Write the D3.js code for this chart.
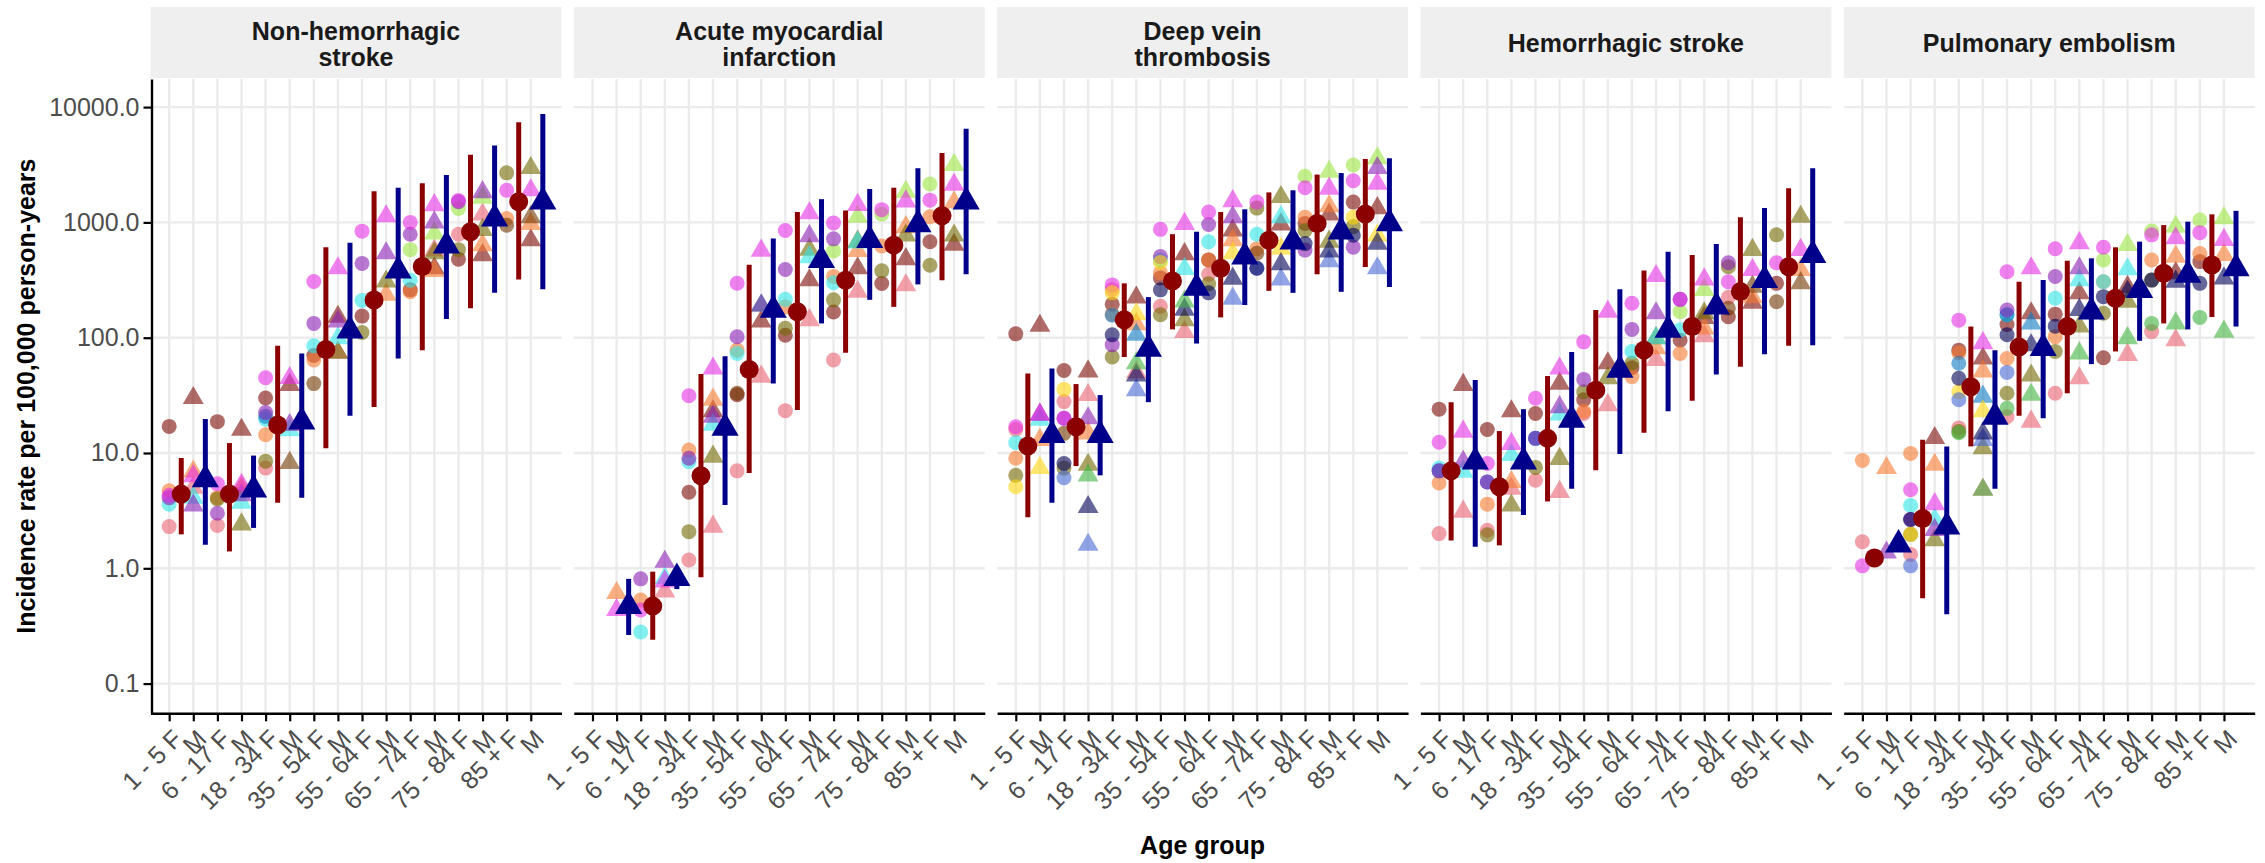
<!DOCTYPE html>
<html><head><meta charset="utf-8">
<script src="https://cdn.jsdelivr.net/npm/d3@7"></script>
<style>body{margin:0;background:#fff} text{font-family:"Liberation Sans",Arial,Helvetica,sans-serif}</style>
</head><body><svg id="c" width="2265" height="863"></svg>
<script>
const N = null;
const outcomeTitles = [["Non-hemorrhagic","stroke"],["Acute myocardial","infarction"],["Deep vein","thrombosis"],["Hemorrhagic stroke"],["Pulmonary embolism"]];
const ageGroups = ["1 - 5","6 - 17","18 - 34","35 - 54","55 - 64","65 - 74","75 - 84","85 +"];
const xLabels = ageGroups.flatMap(a => [a + " F", "M"]);
const yTickValues = [0.1, 1, 10, 100, 1000, 10000];
const dbNames  = ["brown","pink","orange","olive","gold","lime","cyan","sky","purple","magenta","yellow","cornflower","slate","green"];
const dbColors = ["#7b0a05","#e96171","#f77a2f","#716900","#713700","#9be63f","#2fe6e6","#0d7ac5","#8a1eb4","#e62fe6","#ffd50d","#4869d5","#000058","#3fb43f"];

// Non-hemorrhagic stroke: database estimates (F,M alternating per age group)
const nhStroke = [
  ["brown",   [17,30,18.7,15.9,30,39,70,152,154,N,260,400,480,520,N,700]],
  ["pink",    [2.3,5.0,2.35,4.8,7.4,N,N,74,N,N,N,570,790,1170,N,N]],
  ["orange",  [4.7,6.9,4.1,5.0,14.4,N,64,N,N,236,250,380,N,635,1080,970]],
  ["olive",   [N,N,4.0,2.4,8.5,N,N,74,111,307,N,540,580,860,2690,2960]],
  ["gold",    [N,N,N,N,N,8.2,40,N,N,N,N,N,N,N,945,1110]],
  ["lime",    [N,N,N,N,N,N,N,N,N,N,580,800,1320,1640,N,N]],
  ["cyan",    [3.6,4.1,N,3.7,19.6,15.8,85,99,210,N,315,N,N,N,N,N]],
  ["sky",     [N,N,N,N,20.8,N,N,N,N,N,N,N,N,N,N,N]],
  ["purple",  [4.1,3.5,3.0,4.3,22.4,17.5,133,138,441,540,790,1000,1510,1830,N,N]],
  ["magenta", [4.3,6.3,5.4,5.3,45,44.7,307,400,840,1130,1000,1410,1550,N,1900,1900]]
];
const nhEst = [4.4,5.9,4.4,4.8,17.5,18.7,79,115,212,381,415,630,830,1080,1510,1510];
const nhLo  = [1.97,1.6,1.4,2.24,3.7,4.1,11,21,25,66,78,145,180,245,320,263];
const nhHi  = [9.05,19.7,12.2,9.5,85,73,610,665,1860,2000,2180,2580,3870,4650,7400,8700];

// Acute myocardial infarction
const ami = [
  ["brown",   [N,N,N,N,4.56,23,32,138,105,315,167,400,295,480,680,640]],
  ["pink",    [N,N,N,0.63,1.18,2.3,7.0,46,23.3,142,64,250,N,285,N,N]],
  ["orange",  [N,0.61,0.53,N,10.6,29,78,N,185,N,340,565,625,910,1120,1490]],
  ["olive",   [N,N,N,N,2.08,9.3,N,190,121,580,213,680,380,770,425,770]],
  ["gold",    [N,N,N,N,N,N,33,N,N,N,N,N,N,N,N,N]],
  ["lime",    [N,N,N,N,N,N,N,N,N,N,565,1120,1180,1850,2150,3150]],
  ["cyan",    [N,N,0.28,0.82,8.4,17.6,73,190,215,500,300,670,N,N,N,N]],
  ["purple",  [N,N,0.81,1.14,9.0,20.6,102,190,390,760,720,N,N,N,N,N]],
  ["magenta", [N,0.435,0.435,0.77,31.4,54,297,569,850,1200,990,1420,1290,1520,1560,2120]]
];
const amiEst = [N,0.47,0.47,0.82,6.36,16.5,53,174,168,470,315,700,635,960,1140,1510];
const amiLo  = [N,0.264,0.24,0.66,0.835,3.54,6.7,40,23.6,133,74,213,185,290,315,355];
const amiHi  = [N,0.81,0.935,0.92,48.5,69,430,725,1230,1590,1270,1950,2000,2950,4000,6500];

// Deep vein thrombosis
const dvt = [
  ["brown",      [108,127,52,51,195,223,330,530,473,850,N,960,980,1170,1500,1330]],
  ["pink",       [16,N,27.9,31.8,262,50,187,112,355,N,N,N,N,N,N,N]],
  ["orange",     [9.0,13,N,14.8,160,131,365,N,473,700,590,N,1110,1380,N,N]],
  ["olive",      [6.4,N,7.4,7.9,68,N,158,142,294,N,1330,1660,850,680,920,N]],
  ["gold",       [N,N,14.8,N,N,N,N,N,N,N,540,N,N,N,N,N]],
  ["lime",       [N,N,N,N,N,N,N,N,N,N,N,N,2510,2750,3150,3600]],
  ["cyan",       [12.3,19.4,N,N,N,N,473,395,680,N,790,1110,N,N,N,N]],
  ["sky",        [N,N,N,N,157,106,N,N,N,N,N,N,N,N,N,N]],
  ["purple",     [N,21.5,20,20,87,N,505,N,960,1110,N,N,575,N,610,2960]],
  ["magenta",    [16.9,21.5,20,N,287,N,870,970,1230,1530,1500,N,2000,1960,2300,2170]],
  ["yellow",     [5.1,7.4,35.6,N,245,160,450,N,N,540,N,590,N,N,1110,770]],
  ["cornflower", [N,N,6.1,1.6,N,35,N,N,N,218,400,320,N,460,N,400]],
  ["slate",      [N,N,8.1,3.4,106,47,260,175,245,325,400,435,655,560,775,655]],
  ["green",      [N,N,N,6.4,N,60,N,206,N,N,N,N,N,N,N,N]]
];
const dvtEst = [11.5,14.3,16.9,14.3,143,80,310,270,400,505,700,680,980,830,1180,980];
const dvtLo  = [2.77,3.7,7.7,6.4,68,27.6,118,89,150,192,255,245,355,250,410,275];
const dvtHi  = [49,54,39.6,31.8,296,225,790,830,1230,1300,1820,1900,2600,2680,3550,3600];

// Hemorrhagic stroke
const hem = [
  ["brown",   [24,39,16,23,22,40,29,60,55,N,95,148,152,201,296,N]],
  ["pink",    [2.0,3.1,2.14,4.9,5.8,4.6,22,26,N,64,N,103,224,N,N,N]],
  ["orange",  [5.5,N,3.6,5.6,N,N,23,N,46,81,73,120,N,224,N,386]],
  ["olive",   [N,N,1.95,3.5,7.5,8.9,34,44.6,60,99,N,163,412,577,780,1120]],
  ["gold",    [N,N,N,N,N,N,N,N,N,N,N,N,180,277,205,297]],
  ["lime",    [N,N,N,N,N,N,N,N,N,N,168,260,N,N,N,N]],
  ["cyan",    [7.4,6.9,N,9.6,13.4,21.6,N,N,76,99,117,N,N,N,N,N]],
  ["sky",     [7.0,N,5.6,N,13.4,N,N,N,N,N,N,N,N,N,N,N]],
  ["purple",  [7.0,8.4,5.6,N,13.4,25,43.5,N,118,163,215,N,447,N,N,N]],
  ["magenta", [12.4,15.3,8.1,12,29.8,54,92,168,199,343,215,320,306,386,447,577]]
];
const hemEst = [7.0,8.4,5.1,8.4,13.4,19.4,35,52.5,78,117,125,186,251,316,413,521];
const hemLo  = [1.74,1.54,1.58,2.9,3.8,4.9,7.1,9.8,15,23,28.4,48,56,72,85,86];
const hemHi  = [27.6,43,15.5,24,46.5,75,174,263,382,557,521,650,1110,1330,1980,2950];

// Pulmonary embolism
const pe = [
  ["brown",      [N,N,N,13.5,78,66,130,163,160,243,67,276,N,363,457,N]],
  ["pink",       [1.7,N,1.32,N,16.5,4.8,20.6,18.7,33,44.5,N,71,113,95,N,N]],
  ["orange",     [8.6,7.4,9.9,7.9,74,51,66,N,102,N,306,N,472,505,538,521]],
  ["olive",      [N,N,1.97,1.75,15.4,11,33,47,76,125,163,205,316,N,N,N]],
  ["lime",       [N,N,N,N,N,N,N,N,N,N,472,637,842,917,1050,1085]],
  ["green",      [N,N,N,N,15,4.8,24.4,32,N,73,N,99,133,133,150,113]],
  ["cyan",       [N,N,3.5,2.65,N,N,158,N,220,316,306,392,N,N,N,N]],
  ["sky",        [N,N,N,N,60,30.8,158,133,N,N,N,N,N,N,N,N]],
  ["purple",     [N,1.37,2.65,2.15,N,N,174,N,339,400,N,N,N,N,N,N]],
  ["magenta",    [1.05,N,4.8,3.6,142,89.6,373,400,590,660,608,N,780,728,815,705]],
  ["yellow",     [N,N,1.97,N,34,23,N,N,N,N,N,N,N,N,N,N]],
  ["cornflower", [N,N,1.05,N,29,13,50,N,N,N,N,N,N,N,N,N]],
  ["slate",      [N,N,2.65,N,44.5,14.8,106,86,126,174,227,250,316,306,296,327]]
];
const peEst = [1.23,1.6,2.7,2.3,37.6,20.6,83,81,125,168,220,259,362,350,427,400];
const peLo  = [1.15,1.5,0.55,0.4,11.4,4.9,21,20,33,59,76,94,133,118,151,125];
const peHi  = [1.32,1.72,13,11.4,125,78,306,316,466,488,608,681,948,1015,1175,1260];

const panels = [
  {pts: nhStroke, est: nhEst, lo: nhLo, hi: nhHi},
  {pts: ami, est: amiEst, lo: amiLo, hi: amiHi},
  {pts: dvt, est: dvtEst, lo: dvtLo, hi: dvtHi},
  {pts: hem, est: hemEst, lo: hemLo, hi: hemHi},
  {pts: pe, est: peEst, lo: peLo, hi: peHi}
];

const svg = d3.select("#c");
const W = 411, pTop = 79, pBottom = 713.3, stripTop = 7;
const lefts = [150.5, 573.8, 997.1, 1420.4, 1843.7];
const FS = 25;
const color = d3.scaleOrdinal().domain(dbNames).range(dbColors);
const y = d3.scaleLog().domain([Math.pow(10, -1.2576), Math.pow(10, 4.2437)]).range([pBottom, pTop]);
const tri = d3.symbol().type(d3.symbolTriangle).size(190)();
const triBig = d3.symbol().type(d3.symbolTriangle).size(320)();

panels.forEach((p, k) => {
  const L = lefts[k];
  const x = d3.scaleLinear().domain([-0.775, 16.275]).range([L, L + W]);
  const g = svg.append("g");
  // strip
  g.append("rect").attr("x", L).attr("y", stripTop).attr("width", W).attr("height", pTop - stripTop - 1).attr("fill", "#efefef");
  const lines = outcomeTitles[k];
  const cy = (stripTop + pTop) / 2 + (lines.length > 1 ? 1 : 0);
  lines.forEach((t, j) => {
    g.append("text").attr("x", L + W / 2).attr("y", cy + (j - (lines.length - 1) / 2) * 25.5)
      .attr("dy", "0.36em").attr("text-anchor", "middle").attr("font-weight", "bold")
      .attr("font-size", FS).attr("fill", "#1a1a1a").text(t);
  });
  // grid
  const grid = g.append("g").attr("stroke", "#ebebeb").attr("stroke-width", 2.4);
  yTickValues.forEach(v => grid.append("line").attr("x1", L).attr("x2", L + W).attr("y1", y(v)).attr("y2", y(v)));
  d3.range(16).forEach(i => grid.append("line").attr("x1", x(i)).attr("x2", x(i)).attr("y1", pTop).attr("y2", pBottom));
  // database points
  const pg = g.append("g");
  p.pts.forEach(([db, vals]) => {
    vals.forEach((v, i) => {
      if (v == null) return;
      const fill = color(db);
      if (i % 2 === 0) {
        pg.append("circle").attr("cx", x(i)).attr("cy", y(v)).attr("r", 7.5).attr("fill", fill).attr("fill-opacity", 0.6);
      } else {
        pg.append("path").attr("d", tri).attr("transform", `translate(${x(i)},${y(v)})`).attr("fill", fill).attr("fill-opacity", 0.6);
      }
    });
  });
  // summary
  const sg = g.append("g");
  p.est.forEach((v, i) => {
    if (v == null) return;
    const c = i % 2 === 0 ? "#8b0000" : "#00008b";
    const xs = x(i + 0.5);
    sg.append("line").attr("x1", xs).attr("x2", xs).attr("y1", y(p.lo[i])).attr("y2", y(p.hi[i])).attr("stroke", c).attr("stroke-width", 5);
    if (i % 2 === 0) sg.append("circle").attr("cx", xs).attr("cy", y(v)).attr("r", 9.5).attr("fill", c);
    else sg.append("path").attr("d", triBig).attr("transform", `translate(${xs},${y(v)})`).attr("fill", c);
  });
  // x axis
  const xa = g.append("g").attr("transform", `translate(0,${pBottom})`)
    .call(d3.axisBottom(x).tickValues(d3.range(16)).tickFormat(i => xLabels[i]).tickSize(8).tickSizeOuter(0));
  xa.select(".domain").attr("stroke", "#000").attr("stroke-width", 2.4);
  xa.selectAll(".tick line").attr("stroke", "#000").attr("stroke-width", 2.2);
  xa.selectAll(".tick text").attr("font-size", FS).attr("fill", "#4d4d4d")
    .attr("text-anchor", "end").attr("dy", "0.8em")
    .attr("transform", "translate(0,13) rotate(-45)").attr("y", 0).attr("x", 0)
    .attr("font-family", "Liberation Sans, Arial, sans-serif");
  if (k === 0) {
    const ya = g.append("g").attr("transform", `translate(${L + 1},0)`)
      .call(d3.axisLeft(y).tickValues(yTickValues).tickFormat(d3.format(".1f")).tickSize(8).tickSizeOuter(0));
    ya.select(".domain").attr("stroke", "#000").attr("stroke-width", 2.4);
    ya.selectAll(".tick line").attr("stroke", "#000").attr("stroke-width", 2.2);
    ya.selectAll(".tick text").attr("font-size", FS).attr("fill", "#4d4d4d").attr("x", -12)
      .attr("font-family", "Liberation Sans, Arial, sans-serif");
  }
});

svg.append("text").attr("transform", `translate(26,${(pTop + pBottom) / 2}) rotate(-90)`)
  .attr("text-anchor", "middle").attr("dy", "0.36em").attr("font-weight", "bold").attr("font-size", FS)
  .text("Incidence rate per 100,000 person-years");
svg.append("text").attr("x", (lefts[0] + lefts[4] + W) / 2).attr("y", 845).attr("dy", "0.36em")
  .attr("text-anchor", "middle").attr("font-weight", "bold").attr("font-size", FS).text("Age group");
</script></body></html>
